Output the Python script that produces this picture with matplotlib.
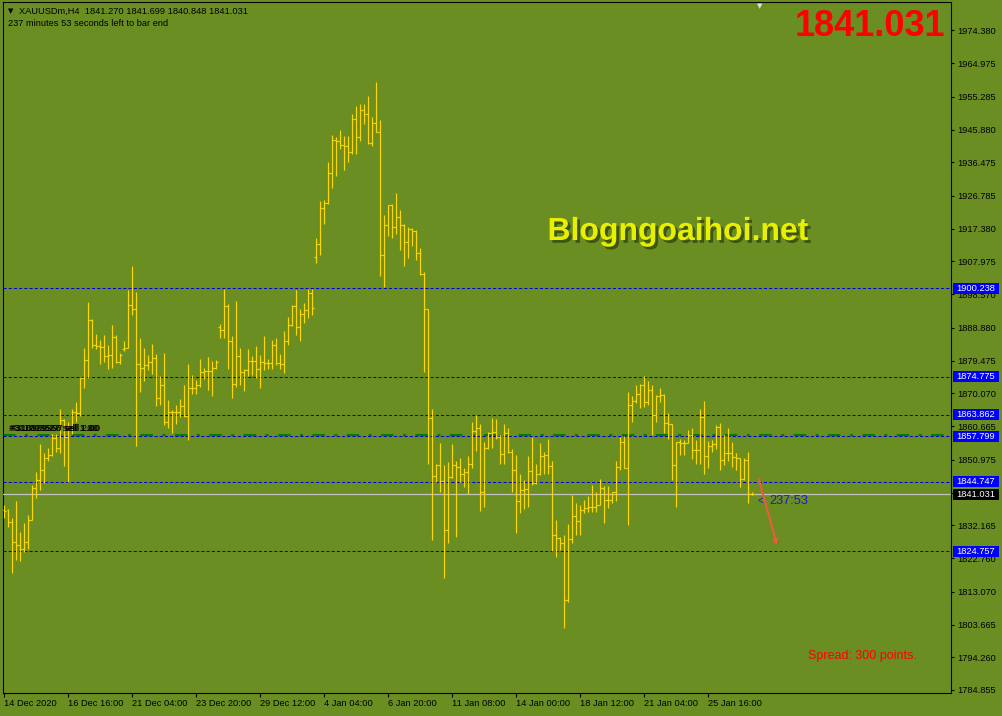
import matplotlib
matplotlib.use('Agg')
import matplotlib.pyplot as plt
import matplotlib.patheffects as pe
from matplotlib.patches import Rectangle
from matplotlib.transforms import blended_transform_factory

# -----------------------------------------------------
# XAUUSDm H4 bars (O, H, L, C)
bar_open = [1836.6, 1836.5, 1833.2, 1827.5, 1826.5, 1825.3, 1827.5, 1833.8, 1842.8, 1845.3,
            1848.2, 1851.6, 1852.3, 1857.3, 1854.3, 1862.4, 1857.6, 1860.0, 1864.8, 1864.3,
            1874.4, 1879.8, 1891.1, 1884.1, 1883.7, 1883.4, 1880.8, 1881.1, 1886.3, 1879.1,
            1882.7, 1883.0, 1895.4, 1894.3, 1878.5, 1877.5, 1878.2, 1879.0, 1880.1, 1868.8,
            1872.4, 1861.9, 1864.8, 1864.8, 1864.6, 1866.5, 1863.6, 1871.5, 1871.5, 1872.6,
            1876.3, 1876.5, 1876.5, 1877.5, 1889.0, 1888.2, 1895.1, 1885.1, 1872.9, 1880.9,
            1876.1, 1876.7, 1879.4, 1879.4, 1877.2, 1879.1, 1878.7, 1878.7, 1884.1, 1878.7,
            1878.4, 1885.2, 1889.7, 1895.1, 1889.0, 1892.8, 1894.0, 1898.8, 1909.3, 1913.1,
            1923.2, 1924.8, 1933.5, 1943.0, 1942.5, 1941.5, 1941.1, 1939.4, 1949.0, 1943.6,
            1951.4, 1950.2, 1942.1, 1947.8, 1945.2, 1909.8, 1918.4, 1924.1, 1917.9, 1920.6,
            1918.4, 1913.6, 1917.4, 1916.7, 1910.5, 1904.5, 1894.3, 1862.9, 1846.4, 1849.5,
            1844.9, 1830.8, 1846.1, 1849.5, 1849.0, 1846.8, 1847.4, 1849.7, 1859.3, 1860.0,
            1841.8, 1854.3, 1858.6, 1859.0, 1857.6, 1852.6, 1858.6, 1853.3, 1848.2, 1839.1,
            1842.3, 1842.6, 1847.8, 1844.2, 1846.8, 1852.1, 1852.5, 1849.2, 1829.4, 1828.6,
            1827.0, 1810.7, 1828.2, 1834.8, 1833.5, 1836.7, 1837.0, 1837.5, 1837.5, 1838.0,
            1842.8, 1839.4, 1839.4, 1841.6, 1848.8, 1856.2, 1848.5, 1866.7, 1867.9, 1869.9,
            1872.4, 1867.5, 1871.0, 1864.0, 1869.4, 1869.6, 1861.6, 1861.2, 1849.5, 1856.0,
            1855.9, 1855.9, 1858.1, 1853.9, 1853.8, 1863.3, 1852.1, 1854.9, 1855.5, 1860.3,
            1850.9, 1852.8, 1853.0, 1851.7, 1851.4, 1845.4, 1850.9, 1841.270]
bar_high = [1838.0, 1836.8, 1834.2, 1839.1, 1830.3, 1832.7, 1835.1, 1843.7, 1847.5, 1855.4,
            1852.8, 1854.5, 1858.5, 1858.5, 1865.7, 1862.6, 1861.9, 1865.5, 1867.6, 1874.6,
            1883.0, 1896.3, 1891.3, 1887.0, 1885.4, 1886.8, 1883.9, 1889.7, 1886.8, 1881.8,
            1885.1, 1899.7, 1906.6, 1899.2, 1886.0, 1883.0, 1881.1, 1884.3, 1881.5, 1875.0,
            1881.7, 1868.1, 1865.3, 1866.7, 1868.4, 1872.4, 1878.5, 1875.3, 1873.9, 1879.9,
            1877.5, 1880.4, 1879.3, 1879.8, 1890.0, 1900.2, 1895.7, 1886.5, 1896.6, 1883.0,
            1877.2, 1882.8, 1880.8, 1883.6, 1881.2, 1886.5, 1879.9, 1885.4, 1886.1, 1881.4,
            1887.9, 1891.9, 1895.4, 1899.7, 1894.3, 1895.9, 1900.2, 1900.0, 1914.8, 1925.3,
            1925.6, 1936.4, 1944.4, 1943.8, 1945.7, 1943.9, 1943.9, 1950.3, 1952.6, 1953.1,
            1953.1, 1955.4, 1949.5, 1959.4, 1948.5, 1921.3, 1924.3, 1924.6, 1927.5, 1922.7,
            1918.6, 1917.9, 1917.6, 1916.9, 1911.9, 1904.8, 1894.4, 1865.6, 1849.7, 1855.9,
            1849.5, 1850.4, 1855.5, 1850.6, 1851.6, 1848.5, 1852.1, 1861.9, 1863.8, 1861.4,
            1856.2, 1858.9, 1863.1, 1862.7, 1858.1, 1861.2, 1860.0, 1854.0, 1852.4, 1846.8,
            1845.2, 1852.2, 1857.6, 1849.7, 1855.7, 1853.3, 1857.0, 1850.6, 1833.7, 1828.9,
            1829.4, 1832.4, 1840.9, 1838.5, 1838.0, 1839.4, 1840.6, 1843.7, 1841.8, 1845.4,
            1843.4, 1843.4, 1841.8, 1850.7, 1857.6, 1857.8, 1870.5, 1869.3, 1872.4, 1872.7,
            1875.0, 1873.6, 1872.4, 1869.6, 1871.5, 1869.9, 1864.5, 1861.4, 1856.2, 1857.1,
            1856.6, 1859.5, 1860.0, 1856.6, 1865.7, 1867.8, 1856.4, 1856.6, 1861.1, 1861.7,
            1858.1, 1860.0, 1856.2, 1852.8, 1851.6, 1851.4, 1853.3, 1841.699]
bar_low = [1834.2, 1831.8, 1818.6, 1822.2, 1822.0, 1824.6, 1825.3, 1833.8, 1839.9, 1842.3,
           1844.4, 1850.7, 1852.0, 1853.3, 1852.8, 1849.2, 1844.7, 1858.5, 1861.9, 1863.6,
           1871.7, 1874.4, 1883.0, 1882.7, 1878.4, 1879.1, 1877.2, 1877.4, 1878.7, 1878.4,
           1882.2, 1883.0, 1892.5, 1855.0, 1870.5, 1873.6, 1876.7, 1875.5, 1866.5, 1866.7,
           1860.9, 1860.2, 1858.8, 1861.4, 1863.3, 1863.3, 1856.8, 1870.0, 1869.8, 1871.8,
           1874.1, 1871.0, 1869.4, 1877.0, 1885.9, 1885.9, 1877.0, 1868.8, 1872.0, 1872.6,
           1870.8, 1875.1, 1875.3, 1874.4, 1871.7, 1876.8, 1877.0, 1877.2, 1878.2, 1877.0,
           1876.0, 1884.1, 1889.5, 1886.8, 1885.2, 1890.4, 1891.8, 1892.7, 1907.6, 1909.8,
           1918.7, 1924.4, 1929.1, 1932.6, 1940.2, 1934.2, 1936.6, 1938.8, 1938.8, 1942.6,
           1947.4, 1941.8, 1941.1, 1945.2, 1903.8, 1900.6, 1915.3, 1914.6, 1916.0, 1911.4,
           1906.7, 1909.0, 1912.4, 1908.3, 1904.2, 1876.3, 1849.7, 1827.9, 1844.7, 1841.6,
           1816.9, 1827.0, 1845.9, 1828.9, 1844.5, 1843.3, 1841.2, 1848.5, 1853.6, 1836.4,
           1837.5, 1854.2, 1854.5, 1857.1, 1849.7, 1849.7, 1852.8, 1841.8, 1830.1, 1835.8,
           1836.8, 1837.5, 1843.7, 1844.0, 1846.6, 1846.8, 1846.8, 1824.8, 1823.2, 1825.1,
           1802.6, 1810.2, 1827.0, 1829.4, 1829.4, 1835.6, 1836.1, 1836.1, 1836.1, 1838.0,
           1832.9, 1837.0, 1838.5, 1839.2, 1848.2, 1848.5, 1832.2, 1861.9, 1867.2, 1866.0,
           1866.2, 1866.7, 1858.1, 1861.9, 1867.6, 1858.6, 1857.1, 1845.2, 1837.3, 1852.3,
           1852.5, 1855.8, 1851.1, 1849.7, 1849.8, 1847.0, 1848.5, 1853.3, 1854.0, 1848.2,
           1849.5, 1850.7, 1849.0, 1848.2, 1843.2, 1845.2, 1838.5, 1840.848]
bar_close = [1836.3, 1833.2, 1827.5, 1826.5, 1825.3, 1827.5, 1833.8, 1842.8, 1845.3, 1848.2,
             1851.6, 1852.3, 1857.3, 1854.3, 1862.4, 1857.6, 1860.0, 1864.8, 1864.3, 1874.4,
             1879.8, 1891.1, 1884.1, 1883.7, 1883.4, 1880.8, 1881.1, 1886.3, 1879.1, 1881.2,
             1883.0, 1895.4, 1894.3, 1878.5, 1877.5, 1878.2, 1879.0, 1880.1, 1868.8, 1872.4,
             1861.9, 1864.8, 1864.8, 1864.6, 1866.5, 1863.6, 1871.5, 1871.7, 1872.6, 1876.3,
             1876.5, 1876.5, 1877.5, 1879.0, 1888.2, 1895.1, 1885.1, 1872.9, 1880.9, 1876.1,
             1876.7, 1879.4, 1879.4, 1877.2, 1879.1, 1878.7, 1878.7, 1884.1, 1878.7, 1878.4,
             1885.2, 1889.7, 1895.1, 1889.0, 1892.8, 1894.0, 1898.8, 1894.5, 1913.1, 1923.2,
             1924.8, 1933.5, 1943.0, 1942.5, 1941.5, 1941.1, 1939.4, 1949.0, 1943.6, 1951.4,
             1950.2, 1942.1, 1947.8, 1945.2, 1909.8, 1918.4, 1924.1, 1917.9, 1920.6, 1918.4,
             1913.6, 1917.4, 1916.7, 1910.5, 1904.5, 1894.3, 1862.9, 1846.4, 1849.5, 1844.9,
             1830.8, 1846.1, 1849.5, 1849.0, 1846.8, 1847.4, 1849.7, 1859.3, 1860.0, 1841.8,
             1854.3, 1858.6, 1859.0, 1857.6, 1852.6, 1858.6, 1853.3, 1848.2, 1839.1, 1842.3,
             1842.6, 1847.8, 1844.2, 1846.8, 1852.1, 1852.5, 1849.2, 1829.4, 1828.6, 1827.0,
             1810.7, 1828.2, 1834.8, 1833.5, 1836.7, 1837.0, 1837.5, 1837.5, 1838.0, 1842.8,
             1839.4, 1839.4, 1841.6, 1848.8, 1856.2, 1848.5, 1866.7, 1867.9, 1869.9, 1872.4,
             1867.5, 1871.0, 1864.0, 1869.4, 1869.6, 1861.6, 1861.2, 1849.5, 1856.0, 1855.9,
             1855.9, 1858.1, 1853.9, 1853.8, 1863.3, 1852.1, 1854.9, 1855.5, 1860.3, 1850.9,
             1852.8, 1853.0, 1851.7, 1851.4, 1845.4, 1850.9, 1841.1, 1841.031]

date_labels = ['14 Dec 2020', '16 Dec 16:00', '21 Dec 04:00', '23 Dec 20:00', '29 Dec 12:00',
               '4 Jan 04:00', '6 Jan 20:00', '11 Jan 08:00', '14 Jan 00:00', '18 Jan 12:00',
               '21 Jan 04:00', '25 Jan 16:00']
bars_per_label = 16

price_ticks = [1974.380, 1964.975, 1955.285, 1945.880, 1936.475, 1926.785, 1917.380,
               1907.975, 1898.570, 1888.880, 1879.475, 1870.070, 1860.665, 1850.975,
               1841.570, 1832.165, 1822.760, 1813.070, 1803.665, 1794.260, 1784.855]

level_prices = [1900.238, 1874.775, 1863.862, 1857.799, 1844.747, 1824.757]
order_price = 1858.2
bid_price = 1841.031
timer_text = '237:53'

# -----------------------------------------------------
W, H = 1003, 716
def fx(x):
    return x / float(W)
def fy(y):
    return 1.0 - y / float(H)

bg = '#6b8e23'
bar_col = '#ffd700'
small_font = 'Liberation Sans'
label_size = 6.7

fig = plt.figure(figsize=(W / 100.0, H / 100.0), dpi=100, facecolor=bg)
ax = fig.add_axes([fx(3), fy(693), fx(951) - fx(3), fy(2) - fy(693)])
ax.set_facecolor(bg)

n = len(bar_close)
xs = list(range(n))
ax.vlines(xs, bar_low, bar_high, color=bar_col, lw=0.85, zorder=4)
ax.hlines(bar_open, [x - 0.45 for x in xs], xs, color=bar_col, lw=0.85, zorder=4)
ax.hlines(bar_close, xs, [x + 0.45 for x in xs], color=bar_col, lw=0.85, zorder=4)

ax.set_xlim(-0.325, 236.675)
ax.set_ylim(1783.99, 1982.51)

# horizontal levels
ax.axhline(order_price, color='#008000', lw=1.5, ls=(0, (6, 4.5, 1.5, 4.5)), zorder=2)
for p in level_prices:
    ax.axhline(p, color='#0000e0', lw=0.75, ls=(0, (3, 2)), zorder=3)
ax.axhline(bid_price, color='#c0c0c0', lw=0.9, zorder=3)

# axes / ticks
for s in ax.spines.values():
    s.set_color('black')
    s.set_linewidth(0.8)
ax.yaxis.tick_right()
ax.set_yticks(price_ticks)
ax.set_yticklabels(['%.3f' % v for v in price_ticks])
ax.set_xticks([i * bars_per_label for i in range(len(date_labels))])
ax.set_xticklabels(date_labels, ha='left')
ax.tick_params(axis='y', length=2.2, width=0.8, pad=2, labelsize=label_size, colors='black')
ax.tick_params(axis='x', length=3, width=0.8, pad=1.5, labelsize=label_size, colors='black')
for lab in ax.get_xticklabels() + ax.get_yticklabels():
    lab.set_fontfamily(small_font)

# price labels on the right axis
tr = blended_transform_factory(ax.transAxes, ax.transData)
box_h = 11 / 3.481
box_w = 46.6 / 948.0
for p in level_prices + [bid_price]:
    face = 'black' if p == bid_price else '#0000ff'
    ax.add_patch(Rectangle((1.0018, p - box_h / 2), box_w, box_h, transform=tr,
                           facecolor=face, edgecolor='none', clip_on=False, zorder=6))
    ax.text(1.0018 + box_w / 2, p, '%.3f' % p, transform=tr, ha='center', va='center',
            fontsize=label_size, family=small_font, color='white', clip_on=False, zorder=7)

# order labels (overlapping, as in the terminal)
for dx, txt in [(0, '#318829558 sell 1.00'), (0.3, '#310999997 sell 2.00'), (-0.2, '#311093527 sell 1.00')]:
    ax.text(1.4 + dx, 1860.0, txt, fontsize=label_size, family=small_font, color='black',
            va='center', ha='left', zorder=5)

# timer + arrow
ax.text(188.3, 1839.1, '<', fontsize=7, family=small_font, color='#1818d0', va='center', zorder=6)
ax.text(191.2, 1839.1, timer_text, fontsize=9.2, family=small_font, color='#1818d0',
        va='center', zorder=6)
ax.annotate('', xy=(193.4, 1825.6), xytext=(188.4, 1846.3),
            arrowprops=dict(arrowstyle='-|>', color='#f05a3c', lw=1.5, mutation_scale=7,
                            path_effects=[pe.withSimplePatchShadow(offset=(1, -1), shadow_rgbFace='#3f5a14', alpha=0.6)]),
            zorder=6)

# header texts
fig.text(fx(8), fy(11), '\u25bc', fontsize=5, family='DejaVu Sans', color='black', va='center')
fig.text(fx(19), fy(11), 'XAUUSDm,H4  1841.270 1841.699 1840.848 1841.031', fontsize=label_size,
         family=small_font, color='black', va='center')
fig.text(fx(8), fy(24), '237 minutes 53 seconds left to bar end', fontsize=label_size,
         family=small_font, color='black', va='center')
fig.text(fx(760), fy(6), '\u25bc', fontsize=5, family='DejaVu Sans', color='#e0e0e0',
         va='center', ha='center')
fig.text(fx(945), fy(26), '1841.031', fontsize=26, family='Liberation Sans', weight='bold',
         color='#ff0000', ha='right', va='center')

fig.text(fx(678), fy(232), 'Blogngoaihoi.net', fontsize=23, family='Liberation Sans', weight='bold',
         color='#e8f000', ha='center', va='center',
         path_effects=[pe.withSimplePatchShadow(offset=(2, -2), shadow_rgbFace='#3a4f10', alpha=0.9)])

fig.text(fx(808), fy(656), 'Spread: 300 points.', fontsize=9, family=small_font,
         color='#ff0000', ha='left', va='center')

fig.savefig('out.png', dpi=100, facecolor=bg)
